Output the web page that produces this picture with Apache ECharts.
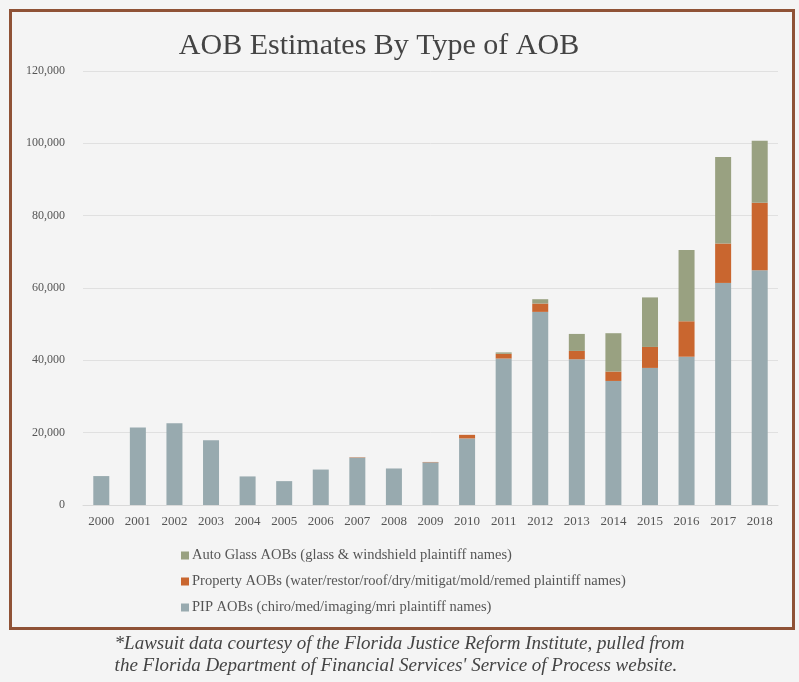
<!DOCTYPE html>
<html>
<head>
<meta charset="utf-8">
<script src="https://cdn.jsdelivr.net/npm/echarts@6/dist/echarts.min.js"></script>
<style>
html,body{margin:0;padding:0;background:#f4f4f4}
#main{width:799px;height:682px}
</style>
</head>
<body>
<div id="main"></div>
<script>
var years = ['2000','2001','2002','2003','2004','2005','2006','2007','2008','2009','2010','2011','2012','2013','2014','2015','2016','2017','2018']
var pip = [8000,21400,22600,17900,7900,6600,9800,13100,10100,11800,18400,40500,53400,40300,34300,37900,41000,61400,64900]
var property = [0,0,0,0,0,0,0,100,0,100,1000,1300,2300,2300,2600,5800,9800,10900,18700]
var glass = [0,0,0,0,0,0,0,0,0,0,0,400,1200,4700,10600,13700,19700,23900,17100]
var yTicks = [0,20000,40000,60000,80000,100000,120000]

var serif = '"Liberation Serif", "DejaVu Serif", serif'

var chart = echarts.init(document.getElementById('main'))
chart.setOption({
    backgroundColor: '#f4f4f4',
    animation: false,
    title: {
        text: 'AOB Estimates By Type of AOB',
        left: 374,
        top: 26,
        textAlign: 'center',
        textStyle: { fontFamily: serif, fontSize: 30, fontWeight: 'normal', color: '#444' }
    },
    grid: { left: 83, right: 21, top: 71, bottom: 177 },
    legend: {
        orient: 'vertical',
        left: 176,
        top: 543,
        itemWidth: 8,
        itemHeight: 8,
        itemGap: 11,
        icon: 'rect',
        data: ['Auto Glass AOBs (glass & windshield plaintiff names)',
               'Property AOBs (water/restor/roof/dry/mitigat/mold/remed plaintiff names)',
               'PIP AOBs (chiro/med/imaging/mri plaintiff names)'],
        itemStyle: {},
        textStyle: { fontFamily: serif, fontSize: 14.5, color: '#555', padding: [0, 0, 0, -2] }
    },
    xAxis: {
        type: 'category',
        data: years,
        axisLine: { lineStyle: { color: '#d9d9d9' } },
        axisTick: { show: false },
        axisLabel: { fontFamily: serif, fontSize: 13, color: '#555', margin: 10 }
    },
    yAxis: {
        type: 'value',
        min: yTicks[0],
        max: yTicks[yTicks.length - 1],
        interval: 20000,
        axisLine: { show: false },
        axisTick: { show: false },
        splitLine: { lineStyle: { color: '#e0e0e0' } },
        axisLabel: {
            fontFamily: serif, fontSize: 12, color: '#555', margin: 18,
            formatter: function (v) { return v.toLocaleString('en-US') }
        }
    },
    series: [
        { name: 'PIP AOBs (chiro/med/imaging/mri plaintiff names)', type: 'bar', stack: 'a', barWidth: 16, data: pip, itemStyle: { color: '#98aaaf' } },
        { name: 'Property AOBs (water/restor/roof/dry/mitigat/mold/remed plaintiff names)', type: 'bar', stack: 'a', data: property, itemStyle: { color: '#c9662f' } },
        { name: 'Auto Glass AOBs (glass & windshield plaintiff names)', type: 'bar', stack: 'a', data: glass, itemStyle: { color: '#99a181' } }
    ],
    graphic: [
        { type: 'rect', left: 8, top: 8, shape: { width: 783, height: 618 }, style: { fill: 'none', stroke: '#8f5236', lineWidth: 3 }, silent: true },
        { type: 'text', left: 'center', top: 633, style: { text: '*Lawsuit data courtesy of the Florida Justice Reform Institute, pulled from\nthe Florida Department of Financial Services\' Service of Process website.', font: 'italic 19px ' + serif, fill: '#444', align: 'center', lineHeight: 22 } }
    ]
})
</script>
</body>
</html>
